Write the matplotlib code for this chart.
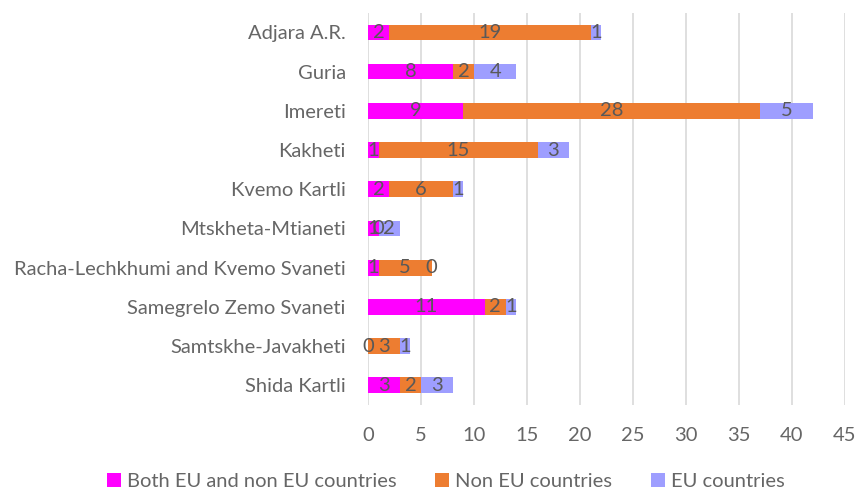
import numpy as np
import matplotlib.pyplot as plt

regions = ["Adjara A.R.", "Guria", "Imereti", "Kakheti", "Kvemo Kartli",
           "Mtskheta-Mtianeti", "Racha-Lechkhumi and Kvemo Svaneti",
           "Samegrelo Zemo Svaneti", "Samtskhe-Javakheti", "Shida Kartli"]
both_eu = [2, 8, 9, 1, 2, 1, 1, 11, 0, 3]
non_eu = [19, 2, 28, 15, 6, 0, 5, 2, 3, 2]
eu_only = [1, 4, 5, 3, 1, 2, 0, 1, 1, 3]

series = [("Both EU and non EU countries", both_eu, "#FF00FF"),
          ("Non EU countries", non_eu, "#ED7D31"),
          ("EU countries", eu_only, "#9E9EFF")]

plt.rcParams['font.family'] = ['Lato', 'DejaVu Sans']
txt = "#666666"
fs = 14.5

fig = plt.figure(figsize=(8.56, 4.92), dpi=100)
ax = fig.add_axes([0.43, 0.177, 0.557, 0.797])

y = np.arange(len(regions))
left = np.zeros(len(regions))
for name, vals, col in series:
    vals = np.array(vals, dtype=float)
    ax.barh(y, vals, left=left, height=0.4, color=col, label=name, zorder=3)
    for yi, l, v in zip(y, left, vals):
        ax.text(l + v / 2, yi, "%d" % v, ha="center", va="center",
                fontsize=fs, color="#595959", zorder=4)
    left += vals

ax.set_ylim(len(regions) - 0.5, -0.5)
ax.set_xlim(0, 45)
ax.set_xticks(range(0, 46, 5))
ax.set_yticks(y)
ax.set_yticklabels(regions)
ax.tick_params(axis="both", length=0, labelsize=fs, colors=txt)
ax.tick_params(axis="y", pad=16)
ax.tick_params(axis="x", pad=16)
ax.grid(axis="x", color="#D9D9D9", linewidth=1.2, zorder=0)
for s in ax.spines.values():
    s.set_visible(False)

ax.legend(loc="lower center", bbox_to_anchor=(0.521, -0.02),
          bbox_transform=fig.transFigure, ncol=3, frameon=False,
          fontsize=fs, labelcolor=txt, handlelength=0.7, handleheight=0.7,
          handletextpad=0.3, columnspacing=1.9, borderaxespad=0.2)

fig.savefig("out.png", dpi=100)
